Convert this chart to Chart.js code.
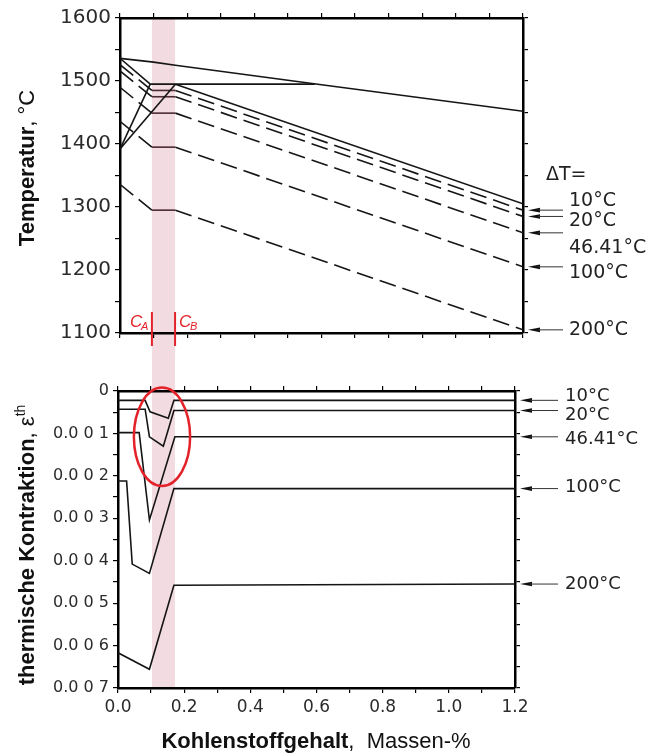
<!DOCTYPE html>
<html>
<head>
<meta charset="utf-8">
<script src="https://cdn.jsdelivr.net/npm/chart.js@4.4.1/dist/chart.umd.min.js"></script>
<style>
  body { margin: 0; background: #fff; }
  #wrap { position: relative; width: 651px; height: 754px; }
  canvas { position: absolute; left: 0; }
  #oben { top: 0; }
  #unten { top: 360px; }
</style>
</head>
<body>
<div id="wrap">
  <canvas id="oben" width="651" height="360"></canvas>
  <canvas id="unten" width="651" height="394"></canvas>
</div>
<script>
// Beschriftung der Kurven
const deltaT = ["10°C", "20°C", "46.41°C", "100°C", "200°C"];

// Peritektischer Bereich (C_A .. C_B), oben bzw. unten
const bandTop = [0.095, 0.164];
const bandBot = [0.103, 0.172];

// --- oberes Diagramm: Temperatur über C-Gehalt ---
const liqX = [0, 0.1, 0.165, 0.6, 1.2];
const liqT = [1536, 1530, 1525, 1494, 1452];
const solDeltaX = [0, 0.09];
const solDeltaT = [1536, 1495];
const periX = [0.09, 0.58];
const periT = [1495, 1495];
const solGammaX = [0.165, 1.2];
const solGammaT = [1495, 1305];
const trans1X = [0, 0.09];
const trans1T = [1392, 1495];
const trans2X = [0, 0.165];
const trans2T = [1392, 1495];

const dashX = [0, 0.095, 0.165, 1.2];
const dash10 = [1526, 1485, 1485, 1295];
const dash20 = [1516, 1475, 1475, 1285];
const dash46 = [1490, 1449, 1449, 1259];
const dash100 = [1436, 1395, 1395, 1205];
const dash200 = [1336, 1295, 1295, 1105];

// --- unteres Diagramm: thermische Kontraktion ---
const eps10X = [0, 0.082, 0.097, 0.152, 0.169, 1.2];
const eps10 = [0.00022, 0.00022, 0.00049, 0.00064, 0.00022, 0.00022];
const eps20X = [0, 0.082, 0.095, 0.137, 0.169, 1.2];
const eps20 = [0.00043, 0.00043, 0.00108, 0.0013, 0.00046, 0.00046];
const eps46X = [0, 0.064, 0.095, 0.172, 1.2];
const eps46 = [0.00098, 0.00098, 0.00304, 0.00108, 0.00108];
const eps100X = [0, 0.026, 0.043, 0.095, 0.169, 1.2];
const eps100 = [0.00212, 0.00212, 0.00408, 0.0043, 0.0023, 0.0023];
const eps200X = [0, 0.095, 0.169, 1.2];
const eps200 = [0.00617, 0.00656, 0.00458, 0.00455];

// Markierung (rote Ellipse)
const ellipse = { cx: 0.133, cy: 0.00108, rx: 0.085, ry: 0.00116 };

const bandColor = "#f2dbe1";
const red = "#e3222a";
const ink = "#151515";
const titleFamily = "'Liberation Sans', Arial, sans-serif";

function pts(xs, ys) {
    return xs.map((x, i) => ({ x: x, y: ys[i] }));
}

function line(xs, ys, extra) {
    return Object.assign({
        data: pts(xs, ys),
        borderColor: ink,
        borderWidth: 1.6,
        pointRadius: 0,
        fill: false,
        tension: 0
    }, extra || {});
}

function inBand(c) {
    return c.p0.parsed.x >= 0.09 && c.p1.parsed.x <= 0.17;
}

function dashed(ys) {
    return line(dashX, ys, {
        borderDash: [17, 7],
        segment: {
            borderDash: c => inBand(c) ? [] : undefined,
            borderColor: c => inBand(c) ? "#4b2a31" : undefined
        }
    });
}

function makeAxis(position, min, max, step, labelFn, size, font, reverse) {
    return {
        type: "linear",
        position: position,
        min: min,
        max: max,
        reverse: !!reverse,
        ticks: {
            stepSize: step,
            maxTicksLimit: 100,
            autoSkip: false,
            maxRotation: 0,
            callback: labelFn,
            font: font,
            color: "#2b2b2b",
            padding: 4
        },
        grid: { drawOnChartArea: false, drawTicks: true, tickLength: 5, color: "#000", lineWidth: 1.2 },
        border: { display: true, color: "#000", width: 2.5 },
        afterFit: s => {
            if (position === "left" || position === "right") s.width = size;
            else s.height = size;
        }
    };
}

// Text aus mehreren Teilen (fett / normal / hochgestellt)
function drawParts(ctx, parts, x, y, rotate) {
    ctx.save();
    ctx.translate(x, y);
    if (rotate) ctx.rotate(-Math.PI / 2);
    let total = 0;
    parts.forEach(p => { ctx.font = p.font; total += ctx.measureText(p.text).width; });
    let pos = -total / 2;
    ctx.fillStyle = "#111";
    ctx.textBaseline = "alphabetic";
    ctx.textAlign = "left";
    parts.forEach(p => {
        ctx.font = p.font;
        ctx.fillText(p.text, pos, p.dy || 0);
        pos += ctx.measureText(p.text).width;
    });
    ctx.restore();
}

function arrow(ctx, tipX, y, endX) {
    ctx.save();
    ctx.fillStyle = "#111";
    ctx.strokeStyle = "#333";
    ctx.beginPath();
    ctx.moveTo(tipX, y);
    ctx.lineTo(tipX + 12, y - 2.3);
    ctx.lineTo(tipX + 12, y + 2.3);
    ctx.closePath();
    ctx.fill();
    ctx.beginPath();
    ctx.lineWidth = 1;
    ctx.moveTo(tipX + 10, y);
    ctx.lineTo(endX, y);
    ctx.stroke();
    ctx.restore();
}

// 📌 Deko oben: Band, C_A / C_B, Pfeile, Achsentitel
const obenDeko = {
    id: "obenDeko",
    beforeDraw(chart) {
        const { ctx, chartArea, scales } = chart;
        const x0 = scales.x.getPixelForValue(bandTop[0]);
        const x1 = scales.x.getPixelForValue(bandTop[1]);
        ctx.save();
        ctx.fillStyle = bandColor;
        ctx.fillRect(x0, chartArea.top, x1 - x0, chart.height - chartArea.top);
        ctx.restore();
    },
    afterDraw(chart) {
        const { ctx, chartArea, scales } = chart;
        const xs = scales.x, ys = scales.y;

        // rote Markierungen C_A, C_B
        ctx.save();
        ctx.strokeStyle = red;
        ctx.lineWidth = 2;
        bandTop.forEach(v => {
            const px = xs.getPixelForValue(v);
            ctx.beginPath();
            ctx.moveTo(px, chartArea.bottom - 21);
            ctx.lineTo(px, chartArea.bottom + 13);
            ctx.stroke();
        });
        ctx.fillStyle = red;
        const ca = xs.getPixelForValue(bandTop[0]);
        const cb = xs.getPixelForValue(bandTop[1]);
        ctx.font = "italic 17px " + titleFamily;
        ctx.textBaseline = "alphabetic";
        ctx.fillText("C", ca - 22, chartArea.bottom - 6);
        ctx.fillText("C", cb + 4, chartArea.bottom - 6);
        ctx.font = "italic 11px " + titleFamily;
        ctx.fillText("A", ca - 11, chartArea.bottom - 3);
        ctx.fillText("B", cb + 15, chartArea.bottom - 3);
        ctx.restore();

        // Pfeile und Beschriftung rechts
        const ends = [dash10, dash20, dash46, dash100, dash200].map(a => a[a.length - 1]);
        const dy = [-9, 5, 15, 6, 0];
        ctx.save();
        ctx.font = "19px 'DejaVu Sans'";
        ctx.fillStyle = "#222";
        ctx.textBaseline = "middle";
        ends.forEach((v, i) => {
            const py = ys.getPixelForValue(v);
            arrow(ctx, chartArea.right + 5, py, chartArea.right + 40);
            ctx.fillText(deltaT[i], chartArea.right + 46, py + dy[i]);
        });
        ctx.fillText("ΔT=", chartArea.right + 23, ys.getPixelForValue(1350));
        ctx.restore();

        drawParts(ctx, [
            { text: "Temperatur", font: "bold 22px " + titleFamily },
            { text: ", °C", font: "22px " + titleFamily }
        ], 34, chartArea.top + 150, true);
    }
};

// 📌 Deko unten: Band, Ellipse, Pfeile, Achsentitel
const untenDeko = {
    id: "untenDeko",
    beforeDraw(chart) {
        const { ctx, chartArea, scales } = chart;
        const x0 = scales.x.getPixelForValue(bandBot[0]);
        const x1 = scales.x.getPixelForValue(bandBot[1]);
        ctx.save();
        ctx.fillStyle = bandColor;
        ctx.fillRect(x0, 0, x1 - x0, chartArea.bottom);
        ctx.restore();
    },
    afterDraw(chart) {
        const { ctx, chartArea, scales } = chart;
        const xs = scales.x, ys = scales.y;

        const cx = xs.getPixelForValue(ellipse.cx);
        const cy = ys.getPixelForValue(ellipse.cy);
        const rx = Math.abs(xs.getPixelForValue(ellipse.cx + ellipse.rx) - cx);
        const ry = Math.abs(ys.getPixelForValue(ellipse.cy + ellipse.ry) - cy);
        ctx.save();
        ctx.strokeStyle = red;
        ctx.lineWidth = 2.5;
        ctx.beginPath();
        ctx.ellipse(cx, cy, rx, ry, 0, 0, Math.PI * 2);
        ctx.stroke();
        ctx.restore();

        const ends = [eps10, eps20, eps46, eps100, eps200].map(a => a[a.length - 1]);
        const dy = [-4, 5, 3, -1, 0];
        ctx.save();
        ctx.font = "18px 'DejaVu Sans'";
        ctx.fillStyle = "#222";
        ctx.textBaseline = "middle";
        ends.forEach((v, i) => {
            const py = ys.getPixelForValue(v);
            arrow(ctx, chartArea.right + 5, py, chartArea.right + 43);
            ctx.fillText(deltaT[i], chartArea.right + 50, py + dy[i]);
        });
        ctx.restore();

        drawParts(ctx, [
            { text: "thermische Kontraktion", font: "bold 22px " + titleFamily },
            { text: ", ε", font: "22px " + titleFamily },
            { text: "th", font: "14px " + titleFamily, dy: -9 }
        ], 34, chartArea.top + 154, true);

        drawParts(ctx, [
            { text: "Kohlenstoffgehalt", font: "bold 22px " + titleFamily },
            { text: ",  Massen-%", font: "22px " + titleFamily }
        ], 316, chart.height - 6, false);
    }
};

const bigFont = { family: "DejaVu Sans", size: 20 };
const smallFont = { family: "DejaVu Sans", size: 16 };
const xFont = { family: "DejaVu Sans", size: 17 };
const none = () => "";

const common = {
    responsive: false,
    animation: false,
    events: [],
    layout: { padding: 0 },
    plugins: { legend: { display: false }, tooltip: { enabled: false } }
};

new Chart(document.getElementById("oben"), {
    type: "line",
    data: {
        datasets: [
            line(liqX, liqT),
            line(solDeltaX, solDeltaT),
            line(periX, periT),
            line(solGammaX, solGammaT),
            line(trans1X, trans1T),
            line(trans2X, trans2T),
            dashed(dash10),
            dashed(dash20),
            dashed(dash46),
            dashed(dash100),
            dashed(dash200)
        ]
    },
    options: Object.assign({}, common, {
        scales: {
            x: makeAxis("bottom", 0, 1.2, 0.1, none, 27, bigFont),
            x2: makeAxis("top", 0, 1.2, 0.1, none, 18, bigFont),
            y: makeAxis("left", 1100, 1600, 50, v => v % 100 === 0 ? String(v) : "", 120, bigFont),
            y2: makeAxis("right", 1100, 1600, 50, none, 128, bigFont)
        }
    }),
    plugins: [obenDeko]
});

function epsLabel(v) {
    const k = Math.round(v * 10000);
    if (k % 10 !== 0) return "";
    if (k === 0) return "0";
    return "0.0 0 " + (k / 10);
}

new Chart(document.getElementById("unten"), {
    type: "line",
    data: {
        datasets: [
            line(eps10X, eps10),
            line(eps20X, eps20),
            line(eps46X, eps46),
            line(eps100X, eps100),
            line(eps200X, eps200)
        ]
    },
    options: Object.assign({}, common, {
        scales: {
            x: makeAxis("bottom", 0, 1.2, 0.1, v => Math.round(v * 10) % 2 === 0 ? v.toFixed(1) : "", 66, xFont),
            x2: makeAxis("top", 0, 1.2, 0.1, none, 31, xFont),
            y: makeAxis("left", 0, 0.007, 0.0005, epsLabel, 118, smallFont, true),
            y2: makeAxis("right", 0, 0.007, 0.0005, none, 136, smallFont, true)
        }
    }),
    plugins: [untenDeko]
});
</script>
</body>
</html>
